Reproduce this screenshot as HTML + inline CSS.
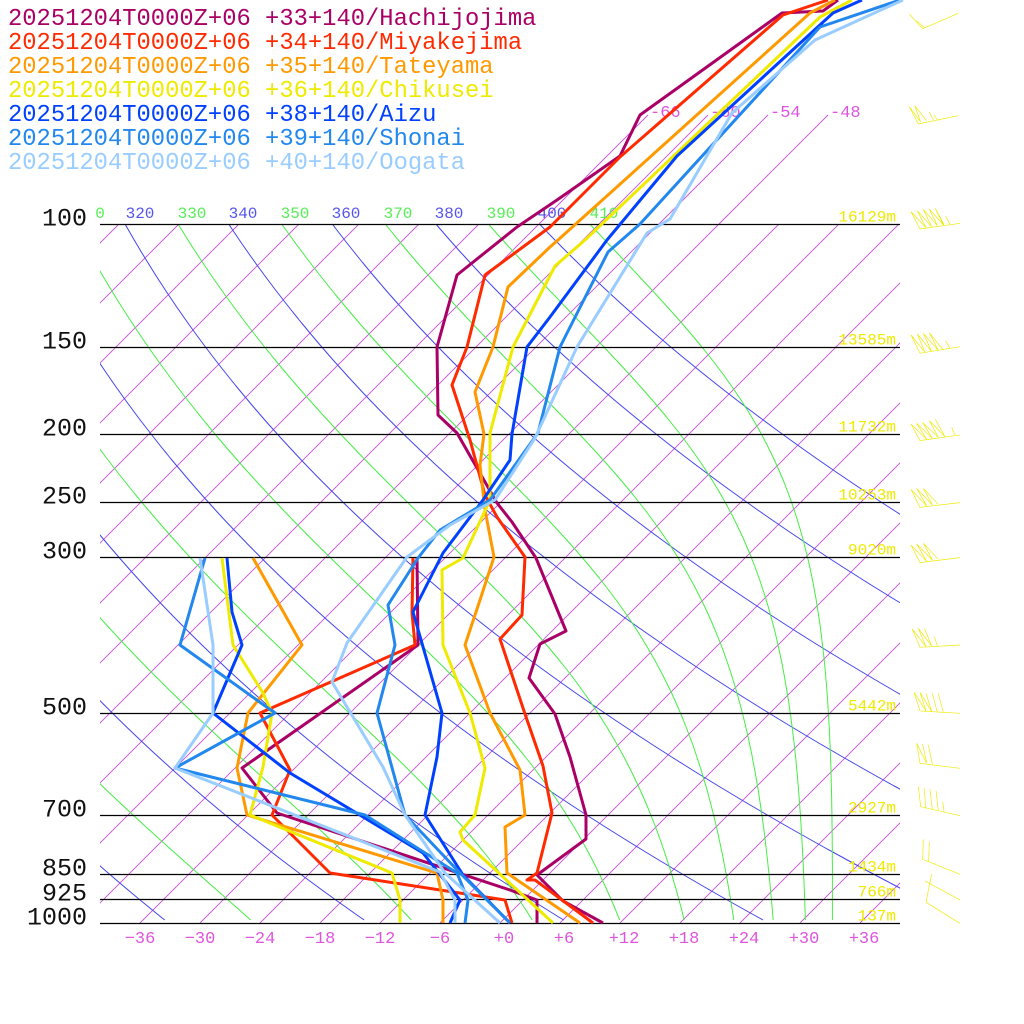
<!DOCTYPE html>
<html><head><meta charset="utf-8">
<style>
html,body{margin:0;padding:0;background:#fff;}
svg{display:block;}
text{font-family:"Liberation Mono",monospace;}
</style></head>
<body>
<svg id="s" width="1024" height="1024" viewBox="0 0 1024 1024" xmlns="http://www.w3.org/2000/svg">
<defs><clipPath id="c"><rect x="100" y="224" width="800" height="699"/></clipPath></defs>
<rect width="1024" height="1024" fill="#fff"/>
<g id="bg" clip-path="url(#c)" fill="none"></g>
<g id="up" fill="none" stroke="#c850d8" stroke-width="0.9">
<line x1="539" y1="224" x2="648" y2="115"/>
<line x1="599" y1="224" x2="708" y2="115"/>
<line x1="659" y1="224" x2="768" y2="115"/>
<line x1="719" y1="224" x2="828" y2="115"/>
</g>
<g font-size="17" fill="#dd55dd">
<text x="650" y="117">-66</text><text x="710" y="117">-60</text><text x="770" y="117">-54</text><text x="830" y="117">-48</text>
</g>
<g id="iso" stroke="#000" stroke-width="1.3"></g>
<g id="lbl"></g>
<g id="prof" fill="none" stroke-width="3" stroke-linejoin="round"></g>
<g fill="none" stroke="#eeea00" stroke-width="2">
<g transform="translate(500,0) scale(0.3333)">
<polyline points="1375,40 1268,86 1228,42"/><polyline points="1250,62 1272,82"/>
<polyline points="1375,347 1255,372 1228,320 1262,366 1245,318 1280,362"/><polyline points="1288,336 1300,360"/><polyline points="1303,345 1312,360"/>
</g>
<g transform="translate(900,190) scale(0.3333)">
<polyline points="180,100 60,117 33,65 78,113 52,62 95,110 70,58 112,107 88,57 130,105 106,55 132,104"/><polyline points="137,78 150,103"/>
<polyline points="180,470 60,490 33,435 75,487 52,432 95,485 70,430 115,482 88,428 130,480"/><polyline points="137,452 150,475"/>
<polyline points="180,735 60,752 33,702 80,748 50,700 97,745 68,698 115,742 88,692 135,740 106,688 135,740"/><polyline points="155,712 165,735"/>
<polyline points="180,938 60,952 33,898 80,948 50,895 97,945 70,895 115,943"/>
<polyline points="180,1103 60,1118 33,1065 80,1114 50,1062 97,1110 70,1060 115,1108"/>
</g>
<g transform="translate(900,590) scale(0.3333)">
<polyline points="180,165 60,172 37,117 78,170 55,115 95,168 73,115 95,168"/><polyline points="103,140 112,168"/>
<polyline points="180,370 60,363 42,307 78,363 60,307 95,365 78,310"/><polyline points="97,310 112,367"/><polyline points="115,310 130,368"/>
<polyline points="180,535 60,520 50,460 80,520 68,462"/><polyline points="85,465 97,522"/>
<polyline points="180,677 62,650 55,590"/><polyline points="72,595 78,655"/><polyline points="90,598 97,658"/><polyline points="108,602 115,660"/><polyline points="128,635 132,663"/>
<polyline points="180,853 68,808 70,748"/><polyline points="88,755 86,815"/>
<polyline points="180,930 75,873"/>
<polyline points="180,1000 78,937 95,852"/>
</g>
</g>
<g font-size="23.8">
<text x="8" y="25" fill="#aa0066">20251204T0000Z+06 +33+140/Hachijojima</text>
<text x="8" y="49" fill="#ff2a00">20251204T0000Z+06 +34+140/Miyakejima</text>
<text x="8" y="73" fill="#ff9900">20251204T0000Z+06 +35+140/Tateyama</text>
<text x="8" y="97" fill="#eeea00">20251204T0000Z+06 +36+140/Chikusei</text>
<text x="8" y="121" fill="#0040ff">20251204T0000Z+06 +38+140/Aizu</text>
<text x="8" y="145" fill="#2288ee">20251204T0000Z+06 +39+140/Shonai</text>
<text x="8" y="169" fill="#99ccff">20251204T0000Z+06 +40+140/Oogata</text>
</g>
</svg>
<script>
(function(){
var NS="http://www.w3.org/2000/svg";
function el(par,tag,at,txt){var e=document.createElementNS(NS,tag);for(var k in at)e.setAttribute(k,at[k]);if(txt!==undefined)e.textContent=txt;document.getElementById(par).appendChild(e);return e;}
var K=303.6;
function Y(p){return 923-K*Math.log(1000/p);}
function P(y){return 1000*Math.exp(-(923-y)/K);}
function X(T,y){return 500+10*T+(923-y);}
for(var T=-120;T<=42;T+=6){el("bg","line",{x1:X(T,923),y1:923,x2:X(T,224),y2:224,stroke:"#c850d8","stroke-width":0.9});}
for(var th=200;th<=400;th+=20){var pts=[];for(var y=224;y<=923;y+=4){var p=P(y);var t=th*Math.pow(p/1000,0.2857)-273.15;pts.push(X(t,y).toFixed(1)+","+y);}
el("bg","polyline",{points:pts.join(" "),stroke:"#4444ee","stroke-width":1});}
function the(Tc,p){var es=6.112*Math.exp(17.67*Tc/(Tc+243.5));if(es>p*0.6)es=p*0.6;var r=0.622*es/(p-es);var Tk=Tc+273.15;
return Tk*Math.pow(1000/p,0.2854*(1-0.28*r))*Math.exp((3.376/Tk-0.00254)*r*1000*(1+0.81*r));}
for(var te=210;te<=410;te+=20){var pts=[];for(var y=224;y<=923;y+=4){var p=P(y);var lo=-160,hi=60;for(var i=0;i<50;i++){var m=(lo+hi)/2;if(the(m,p)>te)hi=m;else lo=m;}
pts.push(X(lo,y).toFixed(1)+","+y);}
el("bg","polyline",{points:pts.join(" "),stroke:"#44ee44","stroke-width":1});}
var lev=[[100,"16129m"],[150,"13585m"],[200,"11732m"],[250,"10253m"],[300,"9020m"],[500,"5442m"],[700,"2927m"],[850,"1434m"],[925,"766m"],[1000,"137m"]];
lev.forEach(function(l){var y=Math.round(Y(l[0]))+0.5;el("iso","line",{x1:100,y1:y,x2:900,y2:y});
el("lbl","text",{x:87,y:y+1,"font-size":25,"text-anchor":"end",fill:"#111"},String(l[0]));
el("lbl","text",{x:896,y:y-3,"font-size":16,"text-anchor":"end",fill:"#eeea00"},l[1]);});
var tl=[[100,"0","#55ee55"],[140,"320","#5555ee"],[192,"330","#55ee55"],[243,"340","#5555ee"],[295,"350","#55ee55"],[346,"360","#5555ee"],[398,"370","#55ee55"],[449,"380","#5555ee"],[501,"390","#55ee55"],[552,"400","#5555ee"],[604,"410","#55ee55"]];
tl.forEach(function(t){el("lbl","text",{x:t[0],y:218,"font-size":16,"text-anchor":"middle",fill:t[2]},t[1]);});
for(var T=-36;T<=36;T+=6){var s=(T>=0?"+":"")+T;s=s.replace("-","\u2212");el("lbl","text",{x:500+10*T+(T>=0?4:0),y:943,"font-size":17,"text-anchor":"middle",fill:"#dd55dd"},s);}
var P2=[
["#aa0066","603,923 563,901 537,875 586,839 586,815 570,757 555,714 529,678 540,644 566,631 536,558 512,522 497,503 457,433 438,415 437,347 457,275 517,227 557,200 620,156 640,115 782,13 823,11 838,0"],
["#aa0066","537,923 537,900 510,890 277,813 242,768 418,645 417,558"],
["#ff2a00","593,923 535,880 527,880 537,873 552,813 543,766 525,714 500,639 522,615 525,557 497,517 485,495 470,440 452,385 467,347 485,275 550,227 620,157 783,15 828,0"],
["#ff2a00","512,923 505,900 330,873 272,815 290,770 260,713 415,645 412,613 413,558"],
["#ff9900","580,923 507,873 505,827 525,815 520,770 490,713 465,645 480,600 494,557 485,510 480,465 484,434 475,392 493,347 508,287 550,247 558,240 810,13 835,0"],
["#ff9900","443,923 443,900 437,873 247,815 237,768 248,713 302,645 253,558"],
["#eeea00","553,923 463,840 460,832 475,815 485,768 470,713 443,645 442,570 463,558 490,500 490,433 513,347 555,266 585,240 820,17 852,0"],
["#eeea00","400,923 400,900 392,873 250,815 263,767 272,713 263,693 233,645 222,558"],
["#0040ff","510,923 463,875 425,815 437,757 442,713 413,612 443,553 483,500 510,460 512,434 527,347 550,317 607,240 677,156 833,13 862,0"],
["#0040ff","450,923 460,900 423,853 290,773 213,713 242,645 232,612 227,558"],
["#2288ee","510,923 460,873 405,815 377,713 395,645 388,605 418,558 440,530 490,500 538,433 560,347 608,252 640,224 820,27 900,0"],
["#2288ee","465,923 468,900 457,873 365,815 175,768 275,713 180,645 205,558"],
["#99ccff","500,923 445,873 405,815 383,767 332,682 347,643 407,557 450,525 495,500 535,438 577,347 647,233 670,219 732,113 815,40 903,0"],
["#99ccff","455,923 455,900 440,872 175,768 213,713 213,645 200,558"]
];
P2.forEach(function(a){el("prof","polyline",{points:a[1],stroke:a[0]});});
})();
</script>
</body></html>
